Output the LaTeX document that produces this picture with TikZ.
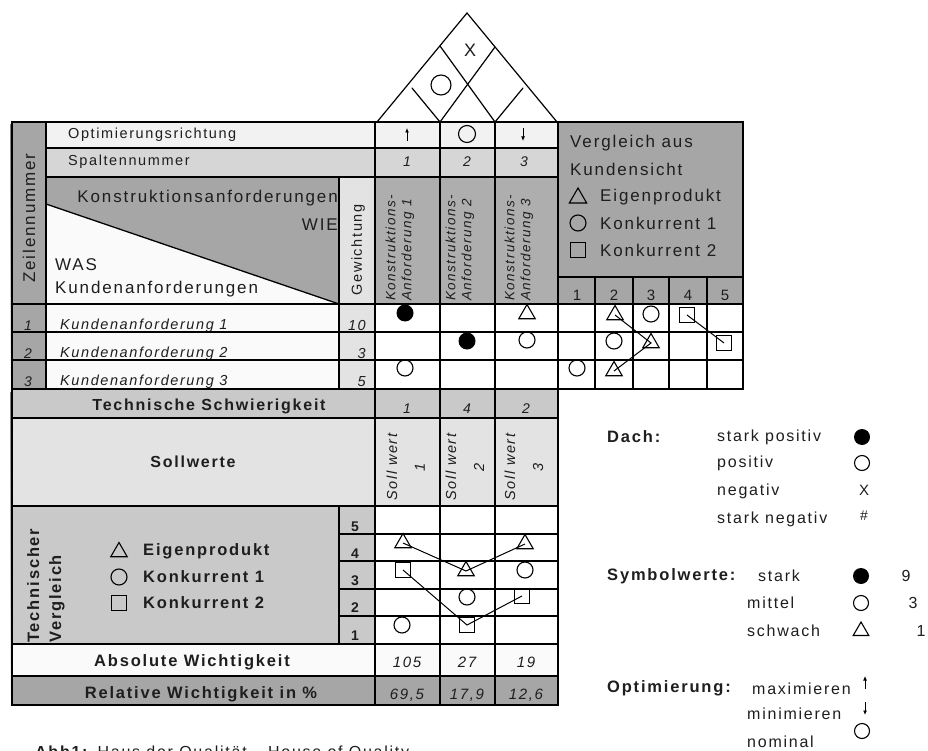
\documentclass[tikz,border=0pt]{standalone}
\usepackage{fontspec}
\setmainfont{Liberation Sans}[LetterSpace=11]
\usetikzlibrary{shapes.geometric,arrows.meta}
\definecolor{gA}{HTML}{A6A6A6}
\definecolor{gB}{HTML}{AEAEAE}
\definecolor{gC}{HTML}{C9C9C9}
\definecolor{gD}{HTML}{D6D6D6}
\definecolor{gE}{HTML}{E3E3E3}
\definecolor{gF}{HTML}{F2F2F2}
\definecolor{gW}{HTML}{FAFAFA}
\definecolor{ink}{HTML}{1E1E1E}
\definecolor{shade}{HTML}{8C8C8C}
\newcommand\fsz[2]{\fontsize{#1}{#2}\selectfont}
\begin{document}
\begin{tikzpicture}[x=1pt,y=-1pt,
  grid/.style={draw=black, line width=1.6pt},
  roof/.style={draw=black, line width=1.2pt, line cap=round},
  txt/.style={text=ink, inner sep=0pt},
  csym/.style={circle, draw=black, line width=1.1pt, minimum size=16pt, inner sep=0pt},
  fsym/.style={circle, fill=black, minimum size=17pt, inner sep=0pt},
  tsym/.style={regular polygon, regular polygon sides=3, draw=black, line width=1.1pt, minimum size=19pt, inner sep=0pt},
  ssym/.style={rectangle, draw=black, line width=1.1pt, minimum size=15pt, inner sep=0pt},
  link/.style={draw=black, line width=1pt},
  optarrow/.style={draw=black, line width=0.9pt, -{Latex[length=4.5pt,width=4pt]}},
]
\useasboundingbox (0,0) rectangle (928,751);
\fill[white] (0,0) rectangle (928,751);

% ---------- shadows ----------
\fill[shade] (10,125) rectangle (556,391);
\fill[shade] (10,392) rectangle (556,708);

% ---------- fills ----------
\fill[gA] (12,122) rectangle (46,389);
\fill[gF] (46,122) rectangle (558,148);
\fill[gD] (46,148) rectangle (558,177);
\fill[gA] (46,177) -- (339,177) -- (339,304) -- (46,204) -- cycle;
\fill[gW] (46,204) -- (339,304) -- (46,304) -- cycle;
\fill[gE] (339,177) rectangle (375,304);
\fill[gB] (375,177) rectangle (558,304);
\fill[gW] (46,304) rectangle (339,389);
\fill[gE] (339,304) rectangle (375,389);
\fill[white] (375,304) rectangle (558,389);
\fill[gA] (558,122) rectangle (743,304);
\fill[white] (558,304) rectangle (743,389);
\fill[gC] (12,389) rectangle (558,418);
\fill[gE] (12,418) rectangle (558,506);
\fill[gC] (12,506) rectangle (375,644);
\fill[white] (375,506) rectangle (558,644);
\fill[gW] (12,644) rectangle (558,676);
\fill[gA] (12,676) rectangle (558,705);

% ---------- roof ----------
\draw[roof] (377,122) -- (467,13) -- (557,122);
\draw[roof] (440,46) -- (495,122);
\draw[roof] (495,47) -- (440,122);
\draw[roof] (440,122) -- (412,88);
\draw[roof] (495,122) -- (523,88);
\node[txt, font=\fsz{18}{20}] (roofx) at (470,50) {X};
\node[csym, minimum size=20pt] (roofo) at (441,85) {};

% ---------- texts: upper left ----------
\node[txt, rotate=90, font=\fsz{17}{20}] (zn) at (29,218) {Zeilennummer};
\node[txt, anchor=west, font=\fsz{14.5}{17}] (optr) at (68,135) {Optimierungsrichtung};
\node[txt, anchor=west, font=\fsz{14.5}{17}] (spn) at (68,162) {Spaltennummer};
\node[txt, anchor=east, font=\fsz{17}{20}] (kanf) at (338,198) {Konstruktionsanforderungen};
\node[txt, anchor=east, font=\fsz{17}{20}] (wie) at (338,225) {WIE};
\node[txt, anchor=west, font=\fsz{17}{20}] (was) at (55,265) {WAS};
\node[txt, anchor=west, font=\fsz{17}{20}] (kuanf) at (55,289) {Kundenanforderungen};
\node[txt, rotate=90, font=\fsz{14.5}{17}] (gew) at (358,250) {Gewichtung};

% row numbers, requirements, weights
\foreach \i/\y in {1/326,2/354,3/382}{
  \node[txt, font=\itshape\fsz{14}{16}] (zr\i) at (28,\y) {\i};
  \node[txt, anchor=west, font=\itshape\fsz{14.5}{17}] (ka\i) at (60,\y) {Kundenanforderung \i};
}
\node[txt, anchor=east, font=\itshape\fsz{14.5}{17}] (w1) at (366,326) {10};
\node[txt, anchor=east, font=\itshape\fsz{14.5}{17}] (w2) at (366,354) {3};
\node[txt, anchor=east, font=\itshape\fsz{14.5}{17}] (w3) at (366,382) {5};

% column headers
\draw[optarrow] (407,141) -- (407,128);
\node[csym, minimum size=17pt] (optc2) at (467,134) {};
\draw[optarrow] (523,128) -- (523,141);
\node[txt, font=\itshape\fsz{14}{16}] (sp1) at (407,162) {1};
\node[txt, font=\itshape\fsz{14}{16}] (sp2) at (467,162) {2};
\node[txt, font=\itshape\fsz{14}{16}] (sp3) at (524,162) {3};
\node[txt, rotate=90, anchor=west, align=left, font=\itshape\fsz{13.5}{16}] (kh1) at (400,301) {Konstruktions-\\Anforderung 1};
\node[txt, rotate=90, anchor=west, align=left, font=\itshape\fsz{13.5}{16}] (kh2) at (460,301) {Konstruktions-\\Anforderung 2};
\node[txt, rotate=90, anchor=west, align=left, font=\itshape\fsz{13.5}{16}] (kh3) at (519,301) {Konstruktions-\\Anforderung 3};

% Vergleich aus Kundensicht
\node[txt, anchor=west, font=\fsz{17}{20}] (vg1) at (570,143) {Vergleich aus};
\node[txt, anchor=west, font=\fsz{17}{20}] (vg2) at (570,169) {Kundensicht};
\node[tsym, minimum size=20pt] (vgt) at (578,198) {};
\node[txt, anchor=west, font=\fsz{17}{20}] (vg3) at (600,197) {Eigenprodukt};
\node[csym] (vgc) at (578,223) {};
\node[txt, anchor=west, font=\fsz{17}{20}] (vg4) at (600,223) {Konkurrent 1};
\node[ssym] (vgs) at (578,250) {};
\node[txt, anchor=west, font=\fsz{17}{20}] (vg5) at (600,250) {Konkurrent 2};
\foreach \n/\x in {1/577,2/614,3/651,4/688,5/725}{
  \node[txt, font=\fsz{15}{17}] (kn\n) at (\x,295) {\n};
}

% ---------- lower texts ----------
\node[txt, font=\bfseries\fsz{16}{19}] (tsw) at (209,406) {Technische Schwierigkeit};
\node[txt, font=\itshape\fsz{14}{16}] (ts1) at (407,409) {1};
\node[txt, font=\itshape\fsz{14}{16}] (ts2) at (467,409) {4};
\node[txt, font=\itshape\fsz{14}{16}] (ts3) at (526,409) {2};
\node[txt, font=\bfseries\fsz{16}{19}] (sollw) at (193,462) {Sollwerte};
\foreach \i/\xa/\xb in {1/392/420,2/451/479,3/510/538}{
  \node[txt, rotate=90, font=\itshape\fsz{14.5}{17}] (sw\i) at (\xa,467) {Soll wert};
  \node[txt, rotate=90, font=\itshape\fsz{14.5}{17}] (swn\i) at (\xb,467) {\i};
}
\node[txt, rotate=90, anchor=west, align=left, font=\bfseries\fsz{16.5}{22}] (tvg) at (46,643) {Technischer\\Vergleich};
\node[tsym] (lt) at (119,552) {};
\node[txt, anchor=west, font=\bfseries\fsz{16.5}{19}] (lt2) at (143,551) {Eigenprodukt};
\node[csym] (lc) at (119,577) {};
\node[txt, anchor=west, font=\bfseries\fsz{16.5}{19}] (lc2) at (143,577) {Konkurrent 1};
\node[ssym] (ls) at (119,603) {};
\node[txt, anchor=west, font=\bfseries\fsz{16.5}{19}] (ls2) at (143,603) {Konkurrent 2};
\foreach \n/\y in {5/527,4/554,3/581,2/608,1/636}{
  \node[txt, font=\bfseries\fsz{14}{16}] (tvn\n) at (355,\y) {\n};
}
\node[txt, font=\bfseries\fsz{16.5}{19}] (absw) at (192,662) {Absolute Wichtigkeit};
\node[txt, font=\itshape\fsz{15}{17}] (ab1) at (407,662) {105};
\node[txt, font=\itshape\fsz{15}{17}] (ab2) at (467,662) {27};
\node[txt, font=\itshape\fsz{15}{17}] (ab3) at (526,662) {19};
\node[txt, font=\bfseries\fsz{16.5}{19}] (relw) at (201,694) {Relative Wichtigkeit in \%};
\node[txt, font=\itshape\fsz{15}{17}] (re1) at (407,695) {69,5};
\node[txt, font=\itshape\fsz{15}{17}] (re2) at (467,695) {17,9};
\node[txt, font=\itshape\fsz{15}{17}] (re3) at (526,695) {12,6};
\node[txt, anchor=base west, font=\fsz{16}{19}] (cap) at (35,757) {\textbf{Abb1:} Haus der Qualität – House of Quality};

% ---------- grid lines ----------
\draw[grid] (12,122) rectangle (558,389);
\draw[grid] (46,122) -- (46,389);
\draw[grid] (46,148) -- (558,148);
\draw[grid] (46,177) -- (558,177);
\draw[grid] (339,177) -- (339,389);
\foreach \y in {304,332,360} \draw[grid] (12,\y) -- (558,\y);
\draw[draw=black, line width=1.3pt] (46,204) -- (339,304);
\draw[grid] (12,389) rectangle (558,705);
\foreach \y in {418,506,644,676} \draw[grid] (12,\y) -- (558,\y);
\draw[grid] (339,506) -- (339,644);
\foreach \y in {534,561,589,616} \draw[grid] (339,\y) -- (558,\y);
\foreach \x in {375,440,495} \draw[grid] (\x,122) -- (\x,705);
\draw[grid] (558,122) rectangle (743,389);
\foreach \y in {277,304,332,360} \draw[grid] (558,\y) -- (743,\y);
\foreach \x in {595,633,669,707} \draw[grid] (\x,277) -- (\x,389);

% ---------- relationship matrix ----------
\node[fsym] (m11) at (405,313) {};
\node[tsym] (m13) at (527,314) {};
\node[fsym] (m22) at (467,341) {};
\node[csym] (m23) at (527,340) {};
\node[csym] (m31) at (405,368) {};

% ---------- customer comparison ----------
\node[tsym] (k1t) at (615,315) {};
\node[csym] (k1c) at (651,314) {};
\node[ssym] (k1s) at (687,315) {};
\node[csym] (k2c) at (614,341) {};
\node[tsym] (k2t) at (651,343) {};
\node[ssym] (k2s) at (724,343) {};
\node[csym] (k3c) at (577,368) {};
\node[tsym] (k3t) at (614,371) {};
\draw[link] (k1t.center) -- (k2t.center) -- (k3t.center);
\draw[link] (k1s.center) -- (k2s.center);

% ---------- technical comparison ----------
\node[tsym] (t4a) at (403,543) {};
\node[tsym] (t4c) at (525,544) {};
\node[ssym] (t3a) at (403,570) {};
\node[tsym] (t3b) at (466,571) {};
\node[csym] (t3c) at (525,570) {};
\node[csym] (t2b) at (467,597) {};
\node[ssym] (t2c) at (522,596) {};
\node[csym] (t1a) at (402,625) {};
\node[ssym] (t1b) at (467,625) {};
\draw[link] (t4a.center) -- (t3b.center) -- (t4c.center);
\draw[link] (t3a.center) -- (t1b.center) -- (t2c.center);

% ---------- legend ----------
\node[txt, anchor=west, font=\bfseries\fsz{16.5}{19}] (dach) at (607,437) {Dach:};
\node[txt, anchor=west, font=\fsz{16}{19}] (d1) at (717,437) {stark positiv};
\node[fsym, minimum size=16pt] (d1s) at (862,437) {};
\node[txt, anchor=west, font=\fsz{16}{19}] (d2) at (717,463) {positiv};
\node[csym, minimum size=15pt] (d2s) at (862,463) {};
\node[txt, anchor=west, font=\fsz{16}{19}] (d3) at (717,491) {negativ};
\node[txt, font=\fsz{15}{17}] (d3s) at (864,490) {X};
\node[txt, anchor=west, font=\fsz{16}{19}] (d4) at (717,519) {stark negativ};
\node[txt, font=\fsz{14}{16}] (d4s) at (864,516) {\#};
\node[txt, anchor=west, font=\bfseries\fsz{16.5}{19}] (symw) at (607,576) {Symbolwerte:};
\node[txt, anchor=west, font=\fsz{16}{19}] (s1) at (758,576) {stark};
\node[fsym, minimum size=16pt] (s1s) at (861,576) {};
\node[txt, font=\fsz{16}{19}] (s1v) at (906,576) {9};
\node[txt, anchor=west, font=\fsz{16}{19}] (s2) at (747,603) {mittel};
\node[csym, minimum size=15pt] (s2s) at (861,603) {};
\node[txt, font=\fsz{16}{19}] (s2v) at (913,603) {3};
\node[txt, anchor=west, font=\fsz{16}{19}] (s3) at (747,631) {schwach};
\node[tsym, minimum size=18pt] (s3s) at (861,631) {};
\node[txt, font=\fsz{16}{19}] (s3v) at (921,631) {1};
\node[txt, anchor=west, font=\bfseries\fsz{16.5}{19}] (optm) at (607,688) {Optimierung:};
\node[txt, anchor=west, font=\fsz{16}{19}] (o1) at (752,689) {maximieren};
\draw[optarrow] (865,689) -- (865,676);
\node[txt, anchor=west, font=\fsz{16}{19}] (o2) at (747,714) {minimieren};
\draw[optarrow] (865,702) -- (865,715);
\node[txt, anchor=west, font=\fsz{16}{19}] (o3) at (747,742) {nominal};
\node[csym, minimum size=15pt] (o3s) at (862,731) {};
\end{tikzpicture}
\end{document}
